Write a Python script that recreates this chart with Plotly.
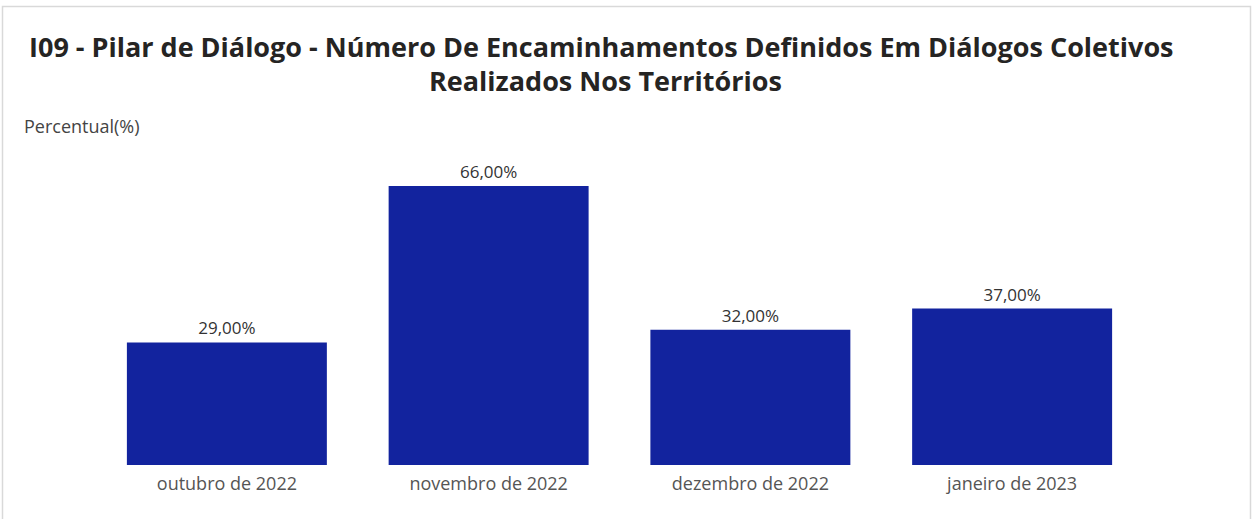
import plotly.graph_objects as go

categories = ["outubro de 2022", "novembro de 2022", "dezembro de 2022", "janeiro de 2023"]
values = [29.0, 66.0, 32.0, 37.0]
labels = ["29,00%", "66,00%", "32,00%", "37,00%"]

title_line1 = "I09 - Pilar de Diálogo - Número De Encaminhamentos Definidos Em Diálogos Coletivos"
title_line2 = "Realizados Nos Territórios"
y_label = "Percentual(%)"

W, H = 1255, 519
L, R, T, B = 96, 112, 160, 54
pw, ph = W - L - R, H - T - B

fig = go.Figure(go.Bar(
    x=categories, y=values, text=labels, textposition="outside",
    textfont=dict(family="Open Sans, Segoe UI, sans-serif", size=17, color="#333333"),
    marker=dict(color="#12239E", line=dict(width=0)),
    cliponaxis=False, hoverinfo="skip",
))

def px_x(x):
    return (x - L) / pw

def px_y(y):
    return (H - B - y) / ph

fig.update_layout(
    width=W, height=H,
    margin=dict(l=L, r=R, t=T, b=B),
    paper_bgcolor="white", plot_bgcolor="white",
    bargap=0.236,
    showlegend=False,
    font=dict(family="Open Sans, Segoe UI, sans-serif"),
    xaxis=dict(showgrid=False, showline=False, zeroline=False, ticks="",
               ticklabelstandoff=6,
               tickfont=dict(size=18, color="#555555")),
    yaxis=dict(range=[0, 66 * ph / 279], visible=False, showgrid=False, zeroline=False),
    annotations=[
        dict(text="<b>" + title_line1 + "</b>", x=px_x(601), y=px_y(46), xref="paper", yref="paper",
             xanchor="center", yanchor="middle", showarrow=False,
             font=dict(size=27, color="#252423")),
        dict(text="<b>" + title_line2 + "</b>", x=px_x(605), y=px_y(81), xref="paper", yref="paper",
             xanchor="center", yanchor="middle", showarrow=False,
             font=dict(size=27, color="#252423")),
        dict(text=y_label, x=px_x(22), y=px_y(126), xref="paper", yref="paper",
             xanchor="left", yanchor="middle", showarrow=False,
             font=dict(size=18, color="#444444")),
    ],
    shapes=[
        dict(type="rect", xref="paper", yref="paper",
             x0=px_x(2.5), x1=px_x(1250.5), y0=px_y(540), y1=px_y(6.5),
             line=dict(color="#d9d9d9", width=1.5), fillcolor="rgba(0,0,0,0)", layer="below"),
    ],
)

fig.write_html("out.html", config={"displayModeBar": False},
               post_script="document.body.style.margin='0';document.body.style.overflow='hidden';")
